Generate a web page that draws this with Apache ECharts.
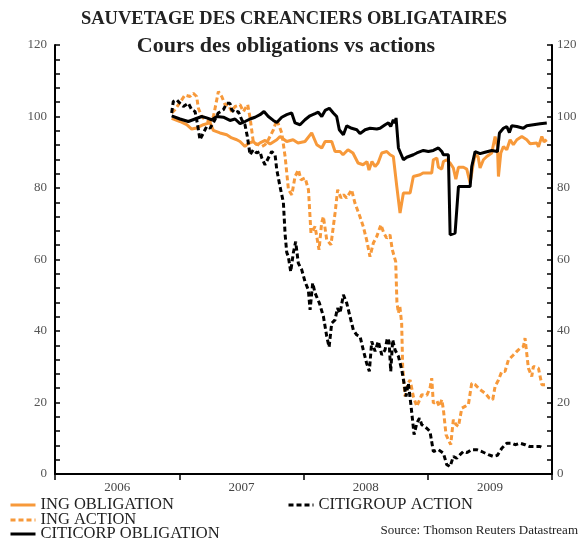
<!DOCTYPE html>
<html>
<head>
<meta charset="utf-8">
<script src="https://cdn.jsdelivr.net/npm/echarts@6/dist/echarts.min.js"></script>
<style>
  html, body { margin: 0; padding: 0; background: #fff; }
  #chart { width: 579px; height: 539px; }
</style>
</head>
<body>
<div id="chart"></div>
<script>
// dates are decimal years
var years = ['2006', '2007', '2008', '2009']
var yTicks = [0, 20, 40, 60, 80, 100, 120]

var ingObligation = [
  [2006.939, 99.5], [2007.006, 98.6], [2007.060, 97.7], [2007.100, 96.5], [2007.140, 96.8],
  [2007.194, 97.7], [2007.248, 98.3], [2007.274, 96.1], [2007.328, 95.4], [2007.382, 94.9],
  [2007.422, 94.0], [2007.463, 93.5], [2007.489, 93.0], [2007.529, 91.6], [2007.556, 92.5],
  [2007.596, 93.0], [2007.624, 92.1], [2007.650, 92.6], [2007.691, 93.3], [2007.731, 92.3],
  [2007.785, 93.5], [2007.811, 94.4], [2007.865, 93.0], [2007.916, 93.5], [2007.956, 92.6],
  [2008.012, 93.0], [2008.066, 95.4], [2008.107, 92.1], [2008.147, 91.2], [2008.174, 93.0],
  [2008.227, 93.0], [2008.254, 90.2], [2008.294, 90.2], [2008.318, 89.3], [2008.358, 90.7],
  [2008.398, 89.8], [2008.439, 87.0], [2008.479, 86.5], [2008.511, 87.4], [2008.527, 85.0],
  [2008.551, 87.4], [2008.576, 86.0], [2008.600, 87.0], [2008.630, 89.8], [2008.670, 90.2],
  [2008.697, 89.3], [2008.723, 88.8], [2008.751, 80.4], [2008.764, 80.9], [2008.777, 73.0],
  [2008.804, 78.6], [2008.858, 78.6], [2008.884, 83.2], [2008.938, 83.7], [2008.962, 84.2],
  [2009.032, 84.2], [2009.045, 87.9], [2009.073, 88.4], [2009.086, 85.8], [2009.113, 85.3],
  [2009.126, 87.4], [2009.153, 87.9], [2009.180, 87.0], [2009.206, 85.6], [2009.226, 82.5],
  [2009.247, 85.8], [2009.287, 85.8], [2009.314, 85.3], [2009.341, 81.4], [2009.367, 87.0],
  [2009.381, 89.3], [2009.405, 88.8], [2009.421, 85.6], [2009.448, 87.9], [2009.475, 88.8],
  [2009.515, 89.8], [2009.542, 94.4], [2009.561, 91.6], [2009.569, 83.2], [2009.588, 89.8],
  [2009.609, 91.6], [2009.636, 90.7], [2009.663, 93.5], [2009.689, 92.1], [2009.717, 93.5],
  [2009.757, 94.4], [2009.797, 93.5], [2009.824, 92.4], [2009.878, 92.6], [2009.891, 91.5],
  [2009.918, 94.4], [2009.936, 92.9], [2009.958, 93.5]
]

var ingAction = [
  [2006.939, 101.0], [2006.966, 101.9], [2007.046, 106.0], [2007.086, 105.6], [2007.113, 106.5],
  [2007.140, 105.6], [2007.154, 102.3], [2007.181, 100.0], [2007.207, 99.1], [2007.248, 98.6],
  [2007.275, 100.0], [2007.302, 104.7], [2007.315, 107.0], [2007.342, 105.6], [2007.369, 103.3],
  [2007.396, 103.3], [2007.422, 101.4], [2007.449, 102.8], [2007.489, 103.3], [2007.516, 101.4],
  [2007.551, 103.3], [2007.570, 99.6], [2007.597, 92.6], [2007.637, 92.1], [2007.664, 91.6],
  [2007.690, 92.1], [2007.717, 93.5], [2007.758, 96.3], [2007.785, 99.1], [2007.798, 99.6],
  [2007.825, 95.4], [2007.852, 88.8], [2007.879, 79.5], [2007.906, 78.1], [2007.932, 83.2],
  [2007.959, 85.1], [2007.980, 82.3], [2008.013, 82.8], [2008.040, 79.5], [2008.060, 67.4],
  [2008.093, 69.2], [2008.125, 62.7], [2008.146, 70.2], [2008.160, 72.0], [2008.187, 65.5],
  [2008.221, 64.1], [2008.254, 73.0], [2008.275, 79.5], [2008.302, 77.2], [2008.323, 78.1],
  [2008.347, 77.2], [2008.387, 79.5], [2008.414, 75.8], [2008.454, 72.0], [2008.481, 69.2],
  [2008.508, 65.5], [2008.535, 60.8], [2008.562, 64.6], [2008.589, 66.4], [2008.623, 69.7],
  [2008.645, 67.5], [2008.669, 66.0], [2008.696, 66.9], [2008.715, 62.7], [2008.742, 59.4],
  [2008.752, 48.0], [2008.764, 45.0], [2008.775, 47.0], [2008.790, 42.2], [2008.798, 30.1],
  [2008.817, 21.7], [2008.844, 25.5], [2008.858, 26.3], [2008.884, 21.7], [2008.912, 18.9],
  [2008.952, 22.2], [2008.992, 22.0], [2009.018, 24.0], [2009.032, 26.8], [2009.045, 19.8],
  [2009.073, 20.5], [2009.093, 18.9], [2009.113, 20.8], [2009.126, 18.0], [2009.147, 11.0],
  [2009.166, 9.6], [2009.185, 8.2], [2009.206, 15.2], [2009.228, 13.8], [2009.247, 13.3],
  [2009.274, 18.4], [2009.300, 18.9], [2009.327, 19.4], [2009.354, 25.4], [2009.381, 25.0],
  [2009.421, 23.6], [2009.461, 22.6], [2009.496, 21.2], [2009.523, 20.8], [2009.542, 24.5],
  [2009.569, 26.3], [2009.596, 28.7], [2009.622, 28.7], [2009.649, 31.9], [2009.689, 33.3],
  [2009.717, 34.3], [2009.743, 35.2], [2009.770, 35.7], [2009.783, 38.0], [2009.797, 38.5],
  [2009.810, 29.6], [2009.837, 27.3], [2009.850, 30.1], [2009.891, 29.6], [2009.918, 25.0],
  [2009.944, 25.0]
]

var citicorpObligation = [
  [2006.939, 100.2], [2007.006, 99.3], [2007.073, 98.6], [2007.127, 99.3], [2007.181, 100.0],
  [2007.221, 99.6], [2007.261, 99.1], [2007.302, 100.0], [2007.355, 99.8], [2007.408, 98.9],
  [2007.449, 99.3], [2007.489, 98.0], [2007.529, 98.6], [2007.570, 99.3], [2007.610, 99.8],
  [2007.650, 100.5], [2007.682, 101.4], [2007.717, 100.0], [2007.757, 98.9], [2007.785, 98.3],
  [2007.825, 99.8], [2007.865, 100.5], [2007.905, 101.0], [2007.932, 98.2], [2007.972, 97.7],
  [2008.012, 99.1], [2008.052, 100.2], [2008.093, 100.8], [2008.119, 101.2], [2008.147, 100.0],
  [2008.174, 101.7], [2008.208, 102.3], [2008.240, 101.0], [2008.267, 100.0], [2008.288, 96.3],
  [2008.321, 94.9], [2008.348, 97.4], [2008.388, 96.7], [2008.429, 96.3], [2008.455, 95.2],
  [2008.496, 96.3], [2008.536, 96.7], [2008.590, 96.5], [2008.616, 96.7], [2008.657, 97.7],
  [2008.683, 98.2], [2008.702, 97.2], [2008.723, 99.1], [2008.737, 98.2], [2008.745, 99.6],
  [2008.764, 91.2], [2008.804, 87.9], [2008.831, 88.6], [2008.884, 89.3], [2008.912, 89.8],
  [2008.965, 90.5], [2009.005, 90.2], [2009.045, 90.5], [2009.086, 91.2], [2009.113, 90.2],
  [2009.126, 89.3], [2009.166, 89.3], [2009.180, 66.9], [2009.220, 67.4], [2009.247, 80.4],
  [2009.287, 80.4], [2009.341, 80.4], [2009.354, 86.0], [2009.381, 90.2], [2009.421, 89.6],
  [2009.461, 90.0], [2009.515, 90.5], [2009.561, 90.2], [2009.577, 95.4], [2009.609, 96.7],
  [2009.636, 97.2], [2009.657, 95.5], [2009.676, 97.4], [2009.717, 97.2], [2009.769, 96.7],
  [2009.797, 97.4], [2009.850, 97.7], [2009.904, 98.0], [2009.958, 98.2]
]

var citigroupAction = [
  [2006.939, 101.0], [2006.952, 104.2], [2006.979, 104.7], [2007.006, 103.7], [2007.033, 102.8],
  [2007.073, 103.7], [2007.100, 101.9], [2007.127, 101.4], [2007.145, 98.2], [2007.167, 93.5],
  [2007.194, 95.4], [2007.221, 97.2], [2007.248, 96.7], [2007.274, 98.2], [2007.314, 101.0],
  [2007.355, 101.9], [2007.382, 103.7], [2007.408, 103.7], [2007.422, 101.9], [2007.449, 101.0],
  [2007.475, 101.4], [2007.503, 99.1], [2007.529, 97.7], [2007.548, 94.4], [2007.570, 89.3],
  [2007.596, 90.7], [2007.623, 89.8], [2007.650, 90.2], [2007.664, 88.4], [2007.690, 86.5],
  [2007.717, 88.4], [2007.744, 90.2], [2007.771, 89.3], [2007.785, 85.1], [2007.811, 80.4],
  [2007.838, 76.0], [2007.852, 67.0], [2007.865, 62.0], [2007.878, 60.8], [2007.897, 56.6],
  [2007.918, 61.8], [2007.937, 65.0], [2007.958, 59.0], [2007.986, 57.1], [2008.012, 53.8],
  [2008.039, 51.5], [2008.053, 45.9], [2008.074, 53.4], [2008.093, 50.6], [2008.128, 47.8],
  [2008.160, 44.1], [2008.187, 38.5], [2008.206, 35.5], [2008.227, 42.2], [2008.254, 43.1],
  [2008.273, 46.4], [2008.294, 45.0], [2008.321, 50.1], [2008.348, 47.8], [2008.374, 44.1],
  [2008.401, 40.3], [2008.428, 38.9], [2008.455, 38.5], [2008.481, 34.7], [2008.508, 31.0],
  [2008.530, 28.7], [2008.549, 37.1], [2008.576, 34.3], [2008.602, 37.1], [2008.630, 33.3],
  [2008.656, 34.7], [2008.675, 38.0], [2008.689, 37.0], [2008.702, 28.7], [2008.718, 37.5],
  [2008.737, 34.7], [2008.764, 32.9], [2008.791, 29.1], [2008.809, 25.4], [2008.825, 21.7],
  [2008.844, 25.4], [2008.866, 18.9], [2008.890, 11.0], [2008.912, 14.2], [2008.933, 15.6],
  [2008.952, 13.8], [2008.992, 12.8], [2009.018, 11.9], [2009.045, 6.3], [2009.086, 6.8],
  [2009.126, 5.8], [2009.153, 2.6], [2009.180, 2.1], [2009.206, 4.9], [2009.233, 4.4],
  [2009.260, 5.4], [2009.287, 6.3], [2009.317, 6.0], [2009.354, 6.8], [2009.394, 6.8],
  [2009.434, 6.3], [2009.488, 5.4], [2009.528, 4.9], [2009.560, 5.2], [2009.596, 7.2],
  [2009.636, 8.6], [2009.676, 8.6], [2009.703, 8.2], [2009.743, 8.6], [2009.783, 8.2],
  [2009.818, 7.7], [2009.863, 7.7], [2009.903, 7.7], [2009.930, 7.2]
]

var serif = '"Liberation Serif", "DejaVu Serif", serif'
var orange = '#F7993A'

function yAxisOf (pos) {
  return {
    type: 'value',
    position: pos,
    min: 0,
    max: 120,
    interval: 4,
    axisLine: { show: true, lineStyle: { color: '#000', width: 2 } },
    axisTick: { show: true, inside: true, length: 5, lineStyle: { color: '#000', width: 1.5 } },
    axisLabel: {
      formatter: function (v) { return yTicks.indexOf(v) >= 0 ? String(v) : '' },
      color: '#555',
      fontFamily: serif,
      fontSize: 13,
      margin: pos === 'left' ? 8 : 5,
      padding: [0, 0, 7, 0]
    },
    splitLine: { show: false }
  }
}

function lineSeries (name, data, color, dashed) {
  return {
    name: name,
    type: 'line',
    xAxisIndex: 1,
    data: data,
    symbol: 'none',
    lineStyle: { color: color, width: 3, type: dashed ? [5, 3] : 'solid' },
    itemStyle: { color: color }
  }
}

// one legend per row, line sits near the text baseline as in the source
function legendOf (name, left, top) {
  return {
    data: [name],
    left: left,
    top: top,
    padding: 0,
    itemWidth: 25,
    itemHeight: 10,
    itemGap: 0,
    selectedMode: false,
    itemStyle: { opacity: 0 },
    lineStyle: { width: 3 },
    textStyle: { fontFamily: serif, fontSize: 16.5, color: '#222', lineHeight: 16, padding: [0, 0, 9, 0] }
  }
}

var chart = echarts.init(document.getElementById('chart'))
chart.setOption({
  animation: false,
  grid: { left: 55, right: 27, top: 45, bottom: 65, containLabel: false, outerBoundsMode: 'none' },
  graphic: [
    { type: 'text', x: 294, y: 19, style: { text: 'SAUVETAGE DES CREANCIERS OBLIGATAIRES', font: 'bold 18.5px ' + serif, fill: '#222', align: 'center', verticalAlign: 'middle' } },
    { type: 'text', x: 286, y: 46, style: { text: 'Cours des obligations vs actions', font: 'bold 22px ' + serif, fill: '#222', align: 'center', verticalAlign: 'middle' } },
    { type: 'text', x: 578, y: 531, style: { text: 'Source: Thomson Reuters Datastream', font: '13px ' + serif, fill: '#222', align: 'right', verticalAlign: 'middle' } }
  ],
  legend: [
    legendOf('ING OBLIGATION', 9, 492.5),
    legendOf('ING ACTION', 9, 507.5),
    legendOf('CITICORP OBLIGATION', 9, 521.5),
    legendOf('CITIGROUP ACTION', 287, 492.5)
  ],
  xAxis: [
    {
      type: 'category',
      data: years,
      boundaryGap: true,
      position: 'bottom',
      axisLine: { show: true, lineStyle: { color: '#000', width: 2 } },
      axisTick: { show: true, interval: 0, length: 6, lineStyle: { color: '#000', width: 1.5 } },
      axisLabel: { color: '#444', fontFamily: serif, fontSize: 13, margin: 7 },
      splitLine: { show: false }
    },
    {
      type: 'value',
      min: 2006,
      max: 2010,
      show: false
    }
  ],
  yAxis: [yAxisOf('left'), yAxisOf('right')],
  series: [
    lineSeries('ING OBLIGATION', ingObligation, orange, false),
    lineSeries('ING ACTION', ingAction, orange, true),
    lineSeries('CITICORP OBLIGATION', citicorpObligation, '#000', false),
    lineSeries('CITIGROUP ACTION', citigroupAction, '#000', true)
  ]
})
</script>
</body>
</html>
